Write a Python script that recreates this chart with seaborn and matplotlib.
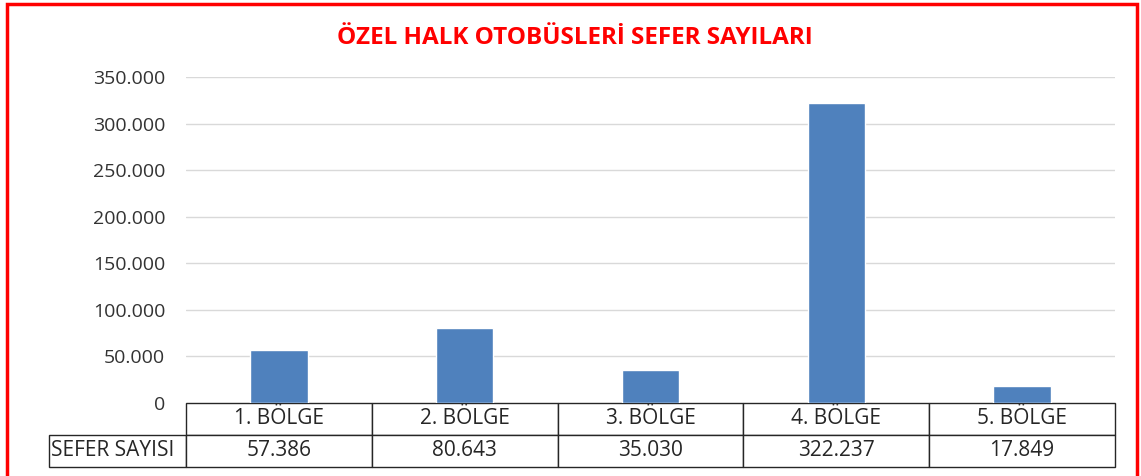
import matplotlib
matplotlib.use("Agg")
import matplotlib.pyplot as plt
import seaborn as sns
import pandas as pd
from matplotlib.patches import Rectangle
from matplotlib.ticker import FuncFormatter

categories = ["1. BÖLGE", "2. BÖLGE", "3. BÖLGE", "4. BÖLGE", "5. BÖLGE"]
values = [57386, 80643, 35030, 322237, 17849]
value_labels = ["57.386", "80.643", "35.030", "322.237", "17.849"]
row_label = "SEFER SAYISI"
title = "ÖZEL HALK OTOBÜSLERİ SEFER SAYILARI"
yticks = [0, 50000, 100000, 150000, 200000, 250000, 300000, 350000]

sns.set_style("white")
plt.rcParams["font.family"] = ["Open Sans", "DejaVu Sans"]

W, H = 1141, 476
fig = plt.figure(figsize=(W / 100, H / 100), dpi=100)
ax = fig.add_axes([186 / W, 1 - 403 / H, (1115 - 186) / W, (403 - 77) / H])

df = pd.DataFrame({"cat": categories, "val": values})
sns.barplot(data=df, x="cat", y="val", color="#4F81BD", saturation=1, width=0.31, ax=ax, zorder=3)

ax.set_ylim(0, 350000)
ax.set_yticks(yticks)
ax.yaxis.set_major_formatter(FuncFormatter(lambda v, p: f"{int(v):,}".replace(",", ".")))
ax.tick_params(axis="y", length=0, pad=15, labelsize=14, labelcolor="#333333")
ax.set_xticks([])
ax.set_xlabel("")
ax.set_ylabel("")
ax.grid(axis="y", color="#D9D9D9", linewidth=1, zorder=0)
ax.set_axisbelow(True)
for s in ["left", "right", "top", "bottom"]:
    ax.spines[s].set_visible(False)
ax.set_xlim(-0.5, 4.5)

# data table
lw = (186 - 49) / (1115 - 186)
th = (467 - 403) / (403 - 77)
cell_text = [[""] + categories, [row_label] + value_labels]
tbl = ax.table(cellText=cell_text, colWidths=[lw] + [0.2] * 5,
               bbox=[-lw, -th, 1 + lw, th], cellLoc="center")
tbl.auto_set_font_size(False)
for (r, c), cell in tbl.get_celld().items():
    cell.set_edgecolor("#262626")
    cell.set_linewidth(1.0)
    cell.get_text().set_fontsize(15)
    cell.get_text().set_color("#262626")
    if r == 0 and c == 0:
        cell.visible_edges = ""
    if c == 0 and r == 1:
        cell.get_text().set_horizontalalignment("left")
        cell.PAD = 0.015

fig.text(575 / W, 1 - 38 / H, title, color="#FF0000", fontsize=17.5, fontweight="bold",
         ha="center", va="center")

fig.patches.append(Rectangle((7 / W, -0.05), (1137 - 7) / W, 1.05 - 4 / H,
                             transform=fig.transFigure, fill=False,
                             edgecolor="#FF0000", linewidth=2.5, figure=fig))

fig.savefig("out.png", dpi=100)
